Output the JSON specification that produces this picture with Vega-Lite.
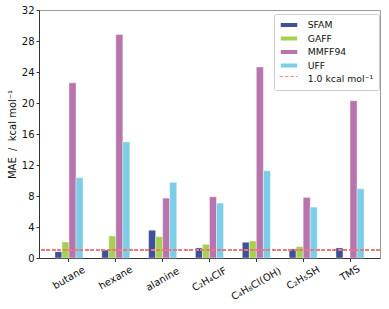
{
  "$schema": "https://vega.github.io/schema/vega-lite/v6.json",
  "width": 341,
  "height": 248,
  "autosize": "none",
  "padding": {"left": 39, "top": 10, "right": 9, "bottom": 51},
  "background": "white",
  "config": {
    "font": "DejaVu Sans",
    "view": {"stroke": "#999999", "strokeWidth": 1},
    "axis": {"labelFont": "DejaVu Sans", "titleFont": "DejaVu Sans", "labelColor": "#111", "titleColor": "#111", "domainColor": "#333", "tickColor": "#333", "grid": false},
    "axisY": {"values": [0, 4, 8, 12, 16, 20, 24, 28, 32], "labelOverlap": false, "labelFontSize": 10, "titleFontSize": 10, "titleFontWeight": "normal", "tickSize": 3, "labelPadding": 2, "titlePadding": 4},
    "legend": {
      "orient": "none",
      "labelFontSize": 9.3,
      "labelColor": "#111",
      "symbolSize": 100,
      "rowPadding": 1.5,
      "labelOffset": 16.7
    }
  },
  "data": {
    "values": [
      {"mol": "butane", "ff": "SFAM", "mae": 0.82},
      {"mol": "butane", "ff": "GAFF", "mae": 2.07},
      {"mol": "butane", "ff": "MMFF94", "mae": 22.6},
      {"mol": "butane", "ff": "UFF", "mae": 10.36},
      {"mol": "hexane", "ff": "SFAM", "mae": 1.04},
      {"mol": "hexane", "ff": "GAFF", "mae": 2.85},
      {"mol": "hexane", "ff": "MMFF94", "mae": 28.84},
      {"mol": "hexane", "ff": "UFF", "mae": 14.98},
      {"mol": "alanine", "ff": "SFAM", "mae": 3.58},
      {"mol": "alanine", "ff": "GAFF", "mae": 2.76},
      {"mol": "alanine", "ff": "MMFF94", "mae": 7.73},
      {"mol": "alanine", "ff": "UFF", "mae": 9.76},
      {"mol": "C₂H₄ClF", "ff": "SFAM", "mae": 1.3},
      {"mol": "C₂H₄ClF", "ff": "GAFF", "mae": 1.77},
      {"mol": "C₂H₄ClF", "ff": "MMFF94", "mae": 7.9},
      {"mol": "C₂H₄ClF", "ff": "UFF", "mae": 7.08},
      {"mol": "C₄H₈Cl(OH)", "ff": "SFAM", "mae": 2.03},
      {"mol": "C₄H₈Cl(OH)", "ff": "GAFF", "mae": 2.2},
      {"mol": "C₄H₈Cl(OH)", "ff": "MMFF94", "mae": 24.65},
      {"mol": "C₄H₈Cl(OH)", "ff": "UFF", "mae": 11.27},
      {"mol": "C₂H₅SH", "ff": "SFAM", "mae": 1.17},
      {"mol": "C₂H₅SH", "ff": "GAFF", "mae": 1.47},
      {"mol": "C₂H₅SH", "ff": "MMFF94", "mae": 7.82},
      {"mol": "C₂H₅SH", "ff": "UFF", "mae": 6.56},
      {"mol": "TMS", "ff": "SFAM", "mae": 1.3},
      {"mol": "TMS", "ff": "MMFF94", "mae": 20.3},
      {"mol": "TMS", "ff": "UFF", "mae": 8.94}
    ]
  },
  "layer": [
    {
      "mark": {"type": "bar", "stroke": "white", "strokeWidth": 0.4},
      "encoding": {
        "x": {
          "field": "mol", "type": "nominal",
          "sort": ["butane", "hexane", "alanine", "C₂H₄ClF", "C₄H₈Cl(OH)", "C₂H₅SH", "TMS"],
          "scale": {"paddingInner": 0.4, "paddingOuter": 0.34},
          "axis": {"title": null, "labels": false, "tickSize": 3.5}
        },
        "xOffset": {"field": "ff", "type": "nominal", "sort": ["SFAM", "GAFF", "MMFF94", "UFF"], "scale": {"domain": ["SFAM", "GAFF", "MMFF94", "UFF"], "paddingInner": 0, "paddingOuter": 0}},
        "y": {
          "field": "mae", "type": "quantitative",
          "scale": {"domain": [0, 32], "nice": false},
          "axis": {"title": "MAE\u00a0 /\u00a0 kcal mol⁻¹", "values": [0, 4, 8, 12, 16, 20, 24, 28, 32]}
        },
        "color": {
          "field": "ff", "type": "nominal",
          "scale": {
            "domain": ["SFAM", "GAFF", "MMFF94", "UFF", "1.0 kcal mol⁻¹"],
            "range": ["#3f5196", "#a6d052", "#b874ad", "#7ccde6", "transparent"]
          },
          "legend": {
            "title": null,
            "legendX": 235,
            "legendY": 4,
            "padding": 5,
            "strokeColor": "#cccccc",
            "cornerRadius": 2,
            "symbolType": "M-1,-0.55H2.6V0.55H-1Z"
          }
        }
      }
    },
    {
      "mark": {"type": "rule", "color": "#f07a7a", "strokeWidth": 1.2, "opacity": 0.85},
      "encoding": {
        "y": {"datum": 1, "axis": {"title": "MAE\u00a0 /\u00a0 kcal mol⁻¹", "values": [0, 4, 8, 12, 16, 20, 24, 28, 32]}},
        "strokeDash": {
          "datum": "1.0 kcal mol⁻¹",
          "scale": {"domain": ["1.0 kcal mol⁻¹"], "range": [[3.5, 2]]},
          "legend": {
            "title": null,
            "legendX": 240,
            "legendY": 61,
            "padding": 0,
            "labelExpr": "''",
            "symbolType": "M-1,0H2.6",
            "symbolStrokeColor": "#f07a7a",
            "symbolStrokeWidth": 1,
            "symbolOpacity": 0.85
          }
        }
      }
    },
    {
      "transform": [{"filter": "datum.ff === 'SFAM'"}],
      "mark": {
        "type": "text", "angle": 330, "align": "center", "baseline": "middle",
        "fontSize": 10, "font": "DejaVu Sans", "color": "#111",
        "dx": {"expr": "-(length(datum.mol) * 1.5 + 11) / 2"},
        "dy": {"expr": "0.866 * (length(datum.mol) * 1.5 + 11)"}
      },
      "encoding": {
        "x": {"field": "mol", "type": "nominal", "sort": ["butane", "hexane", "alanine", "C₂H₄ClF", "C₄H₈Cl(OH)", "C₂H₅SH", "TMS"]},
        "y": {"datum": 0, "axis": {"title": "MAE\u00a0 /\u00a0 kcal mol⁻¹", "values": [0, 4, 8, 12, 16, 20, 24, 28, 32]}},
        "text": {"field": "mol"}
      }
    }
  ]
}
